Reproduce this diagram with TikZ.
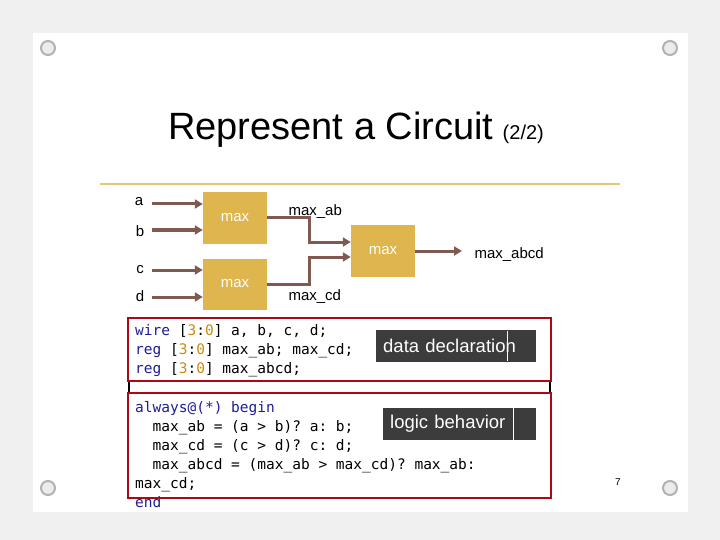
\documentclass[tikz,border=0pt]{standalone}
\usepackage{fontspec}
\setmainfont{Liberation Sans}
\setmonofont{DejaVu Sans Mono}
\usetikzlibrary{arrows.meta}
\definecolor{gold}{RGB}{222,182,77}
\definecolor{wirec}{RGB}{128,90,80}
\definecolor{codered}{RGB}{170,10,20}
\definecolor{kw}{RGB}{30,30,150}
\definecolor{num}{RGB}{200,140,20}
\definecolor{tagbg}{RGB}{60,60,60}
\tikzset{
  maxbox/.style={fill=gold,minimum width=64pt,minimum height=51pt,text=white,font=\fontsize{15}{16}\selectfont},
  sig/.style={font=\fontsize{15}{16}\selectfont},
  wire/.style={draw=wirec,line width=3pt,-{Triangle[length=8pt,width=9pt]}},
  codeline/.style={anchor=base west,font=\ttfamily\fontsize{14.5}{15}\selectfont,inner sep=0pt},
  tag/.style={fill=tagbg,text=white,font=\fontsize{18.5}{19}\selectfont,anchor=west,minimum height=32pt,inner sep=0pt,align=left},
  pin/.style={draw=gray!60,fill=gray!15,line width=2pt}
}
\begin{document}
\begin{tikzpicture}[x=1pt,y=-1pt]
  \fill[gray!12] (0,0) rectangle (720,540);
  \fill[white] (33,33) rectangle (688,512);
  \useasboundingbox (0,0) rectangle (720,540);
  % pins
  \foreach \px/\py in {48/48,670/48,48/488,670/488}
    \draw[pin] (\px,\py) circle (7pt);
  % title
  \node[anchor=base west,font=\fontsize{38}{40}\selectfont,inner sep=0pt] (title) at (168,140) {Represent a Circuit};
  \node[anchor=base west,font=\fontsize{20}{21}\selectfont,inner sep=0pt] (part) at (title.base east) {\ \,(2/2)};
  \draw[gold!80,line width=2pt] (100,184) -- (620,184);
  % circuit
  \node[maxbox] (m1) at (235,218) {max};
  \node[maxbox] (m2) at (235,284) {max};
  \node[maxbox] (m3) at (383,251) {max};
  \node[sig] (a) at (139,202) {a};
  \node[sig] (b) at (140,231) {b};
  \node[sig] (c) at (140,270) {c};
  \node[sig] (d) at (140,296) {d};
  \draw[wire] (152,204) -- (m1.west |- 0,204);
  \draw[wire] (152,230) -- (m1.west |- 0,230);
  \draw[wire] (152,270) -- (m2.west |- 0,270);
  \draw[wire] (152,297) -- (m2.west |- 0,297);
  \coordinate (j1) at (309,218);
  \coordinate (j2) at (309,284);
  \draw[wire] (m1.east) -- (j1) -- (309,242) -- (m3.west |- 0,242);
  \draw[wire] (m2.east) -- (j2) -- (309,257) -- (m3.west |- 0,257);
  \node[sig,anchor=west] (mabcd) at (471,255) {max\_abcd};
  \draw[wire] (m3.east) -- (462,251);
  \node[sig,anchor=west] (mab) at (285,212) {max\_ab};
  \node[sig,anchor=west] (mcd) at (285,297) {max\_cd};
  % code
  \draw[black,line width=1.5pt] (129,381) -- (129,393) (550,381) -- (550,393);
  \node[codeline] (w1) at (135,335) {{\color{kw}wire} [{\color{num}3}:{\color{num}0}] a, b, c, d;};
  \node[codeline] (w2) at (135,354) {{\color{kw}reg} [{\color{num}3}:{\color{num}0}] max\_ab; max\_cd;};
  \node[codeline] (w3) at (135,373) {{\color{kw}reg} [{\color{num}3}:{\color{num}0}] max\_abcd;};
  \node[codeline] (l1) at (135,412) {{\color{kw}always@(*) begin}};
  \node[codeline] (l2) at (135,431) {\ \ max\_ab = (a > b)? a: b;};
  \node[codeline] (l3) at (135,450) {\ \ max\_cd = (c > d)? c: d;};
  \node[codeline] (l4) at (135,469) {\ \ max\_abcd = (max\_ab > max\_cd)? max\_ab:};
  \node[codeline] (l5) at (135,488) {max\_cd;};
  \node[codeline] (l6) at (135,507) {{\color{kw}end}};
  \draw[codered,line width=2.5pt] (128,318) rectangle (551,381);
  \draw[codered,line width=2.5pt] (128,393) rectangle (551,498);
  \node[tag,minimum width=160pt,text width=160pt] (t1) at (376,346) {\hspace*{7pt}data declaration};
  \draw[white,line width=0.8pt] (507,331) -- (507,361);
  \node[tag,minimum width=153pt,text width=153pt] (t2) at (383,424) {\hspace*{7pt}logic behavior};
  \draw[white,line width=0.8pt] (513,408) -- (513,440);
  \node[font=\fontsize{10}{11}\selectfont] (pg) at (618,482) {7};
\end{tikzpicture}
\end{document}
